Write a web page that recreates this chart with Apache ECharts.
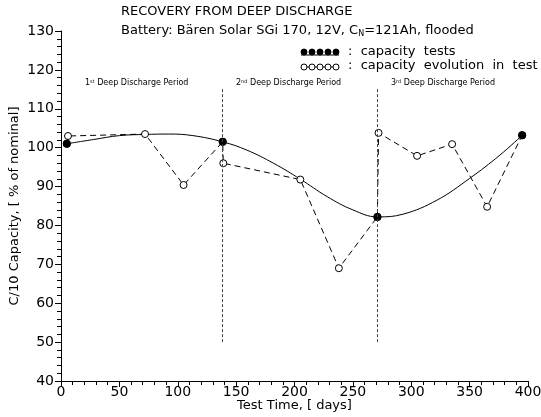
<!DOCTYPE html>
<html>
<head>
<meta charset="utf-8">
<script src="https://cdn.jsdelivr.net/npm/echarts@6/dist/echarts.min.js"></script>
<style>
  html, body { margin: 0; padding: 0; background: #fff; }
  #chart { width: 541px; height: 417px; }
</style>
</head>
<body>
<div id="chart"></div>
<script>
// capacity tests (filled dots)
const capDays = [5, 138.5, 271, 395]
const capValues = [101, 101.5, 82.2, 103.2]

// capacity evolution in test (open circles, dashed)
const testDays = [5, 6, 72, 105, 138.5, 139, 205, 238, 271, 272, 305, 335, 365, 395]
const testValues = [101, 103, 103.5, 90.4, 101.5, 96, 91.8, 69, 82.2, 103.8, 97.9, 100.9, 84.8, 103.2]

// fitted recovery curve
const fitDays = [5, 28, 50, 72, 93, 113, 138.5, 159, 182, 205, 228, 250, 271, 293, 322, 350, 376, 395]
const fitValues = [101, 102.1, 103.1, 103.4, 103.5, 103.1, 101.5, 99.4, 96, 91.9, 87.4, 84, 82.2, 82.9, 86.5, 92.1, 98.1, 103.2]

// period borders
const periodBorders = [138.5, 271]
const periodLabels = ['1', '2', '3']
const periodSup = ['st', 'nd', 'rd']

const FONT = 'DejaVu Sans'
const chart = echarts.init(document.getElementById('chart'))

const pairs = (xs, ys) => xs.map((x, i) => [x, ys[i]])

// legend key: five little circles
const legendKey = (y, filled) => {
  const els = [0, 1, 2, 3, 4].map(k => ({
    type: 'circle',
    shape: { cx: 304 + k * 8, cy: y, r: 3 },
    style: { fill: filled ? '#000' : '#fff', stroke: '#000', lineWidth: 1 },
    z: 10
  }))
  els.unshift({
    type: 'line',
    shape: { x1: 301, y1: filled ? y + 3 : y, x2: 339, y2: filled ? y + 3 : y },
    style: { stroke: '#000', lineWidth: 1 },
    z: 9
  })
  return els
}

const option = {
  backgroundColor: '#fff',
  animation: false,
  textStyle: { fontFamily: FONT, color: '#000' },
  grid: { left: 61, right: 13, top: 31, bottom: 36, outerBoundsMode: 'none' },
  xAxis: {
    type: 'value',
    min: 0,
    max: 400,
    interval: 50,
    name: 'Test Time, [ days]',
    nameLocation: 'middle',
    nameGap: 18,
    nameMoveOverlap: false,
    nameTextStyle: { fontSize: 13, color: '#000', fontFamily: FONT },
    axisLine: { lineStyle: { color: '#000', width: 1 } },
    axisTick: { length: 6, lineStyle: { color: '#000' } },
    minorTick: { show: true, splitNumber: 5, length: 4, lineStyle: { color: '#000' } },
    axisLabel: { fontSize: 14, color: '#000', margin: 4, fontFamily: FONT },
    splitLine: { show: false }
  },
  yAxis: {
    type: 'value',
    min: 40,
    max: 130,
    interval: 10,
    name: 'C/10 Capacity, [ % of nominal]',
    nameLocation: 'middle',
    nameGap: 40,
    nameMoveOverlap: false,
    nameTextStyle: { fontSize: 13, color: '#000', fontFamily: FONT },
    axisLine: { show: true, lineStyle: { color: '#000', width: 1 } },
    axisTick: { length: 6, lineStyle: { color: '#000' } },
    minorTick: { show: true, splitNumber: 5, length: 4, lineStyle: { color: '#000' } },
    axisLabel: { fontSize: 14, color: '#000', margin: 7, fontFamily: FONT },
    splitLine: { show: false }
  },
  series: [
    {
      name: 'fit',
      type: 'line',
      smooth: 0.4,
      data: pairs(fitDays, fitValues),
      symbol: 'none',
      lineStyle: { color: '#000', width: 1 },
      markLine: {
        silent: true,
        symbol: 'none',
        label: { show: false },
        lineStyle: { color: '#444', width: 1, type: [3, 2] },
        data: periodBorders.map(d => [{ coord: [d, 50] }, { coord: [d, 115.5] }])
      },
      z: 2
    },
    {
      name: 'capacity evolution in test',
      type: 'line',
      data: pairs(testDays, testValues),
      symbol: 'circle',
      symbolSize: 7,
      showSymbol: true,
      itemStyle: { color: '#fff', borderColor: '#000', borderWidth: 1 },
      lineStyle: { color: '#000', width: 1, type: [6, 4] },
      z: 3
    },
    {
      name: 'capacity tests',
      type: 'scatter',
      data: pairs(capDays, capValues),
      symbol: 'circle',
      symbolSize: 8,
      itemStyle: { color: '#000', opacity: 1 },
      z: 4
    }
  ],
  graphic: [
    {
      type: 'text', left: 121, top: 5,
      style: { text: 'RECOVERY FROM DEEP DISCHARGE', font: '13px "DejaVu Sans"', fill: '#000' }
    },
    {
      type: 'text', left: 121, top: 24,
      style: {
        text: 'Battery: Bären Solar SGi 170, 12V, C{sub|N}=121Ah, flooded',
        font: '13px "DejaVu Sans"', fill: '#000',
        rich: { sub: { fontSize: 8, fontFamily: FONT, verticalAlign: 'bottom', padding: [6, 0, 0, 0] } }
      }
    },
    ...legendKey(52, true),
    ...legendKey(67, false),
    {
      type: 'text', left: 348, top: 45,
      style: { text: ':  capacity  tests', font: '13px "DejaVu Sans"', fill: '#000' }
    },
    {
      type: 'text', left: 348, top: 59,
      style: { text: ':  capacity  evolution  in  test', font: '13px "DejaVu Sans"', fill: '#000' }
    },
    ...periodLabels.map((n, i) => ({
      type: 'text',
      left: [85, 236, 391][i],
      top: 79,
      style: {
        text: n + '{sup|' + periodSup[i] + '} Deep Discharge Period',
        font: '8px "DejaVu Sans"', fill: '#000',
        rich: { sup: { fontSize: 5, fontFamily: FONT, verticalAlign: 'top' } }
      }
    }))
  ]
}

chart.setOption(option)
</script>
</body>
</html>
